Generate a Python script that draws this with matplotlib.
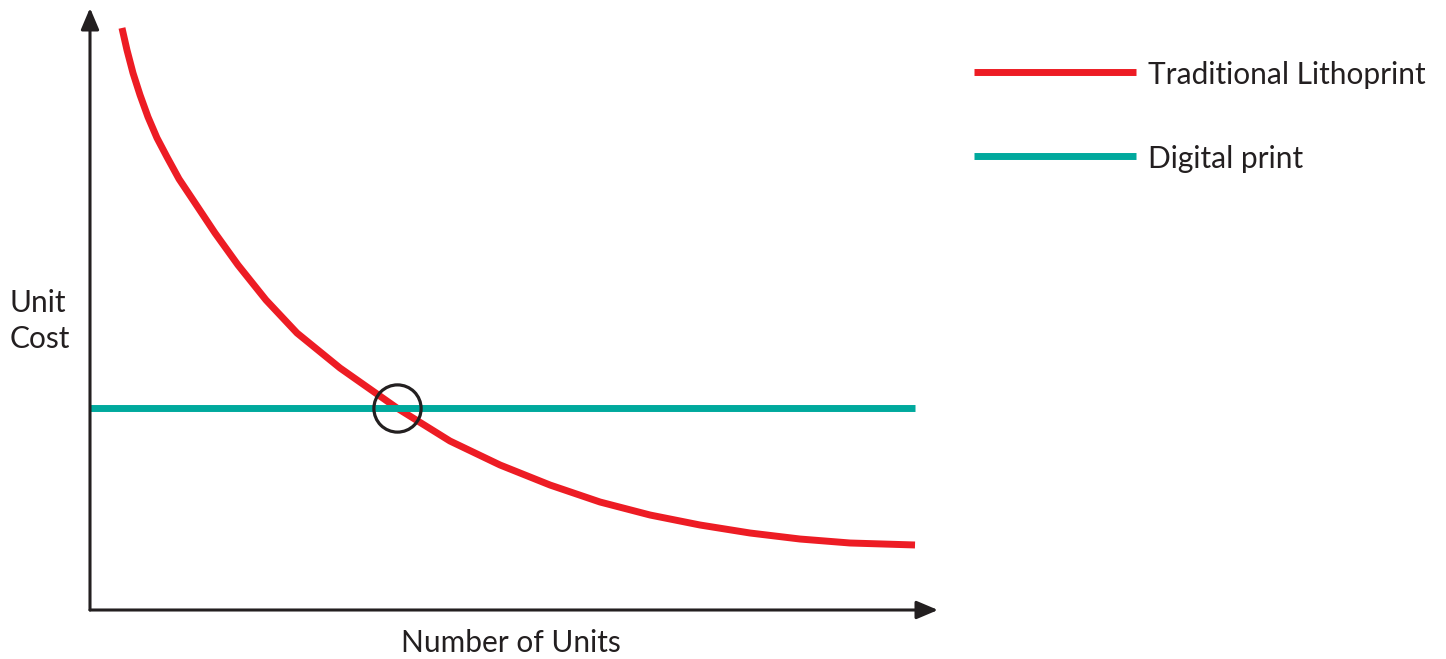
import matplotlib
matplotlib.use("Agg")
import matplotlib.pyplot as plt
from matplotlib.lines import Line2D

plt.rcParams['font.family'] = ['Lato', 'DejaVu Sans']

# (x: number of units, y: unit cost, both 0-100)
units = [3.77, 4.36, 5.07, 5.90, 6.84, 7.90, 9.08, 10.50, 12.15, 14.74, 17.45, 20.75,
         24.41, 29.48, 36.20, 42.45, 48.35, 54.25, 60.14, 66.04, 71.93, 77.83, 83.73,
         89.62, 97.29]
litho_cost = [96.68, 93.02, 89.20, 85.55, 81.89, 78.41, 75.25, 71.59, 68.11, 62.62, 57.31,
              51.50, 46.01, 40.20, 33.55, 28.07, 24.09, 20.76, 17.94, 15.78, 14.12, 12.79,
              11.79, 11.13, 10.80]
digital_units = [0.0, 97.29]
digital_cost = [33.55, 33.55]
break_even = (36.2, 33.55)

series_names = ["Traditional Lithoprint", "Digital print"]
x_label = "Number of Units"
y_label = "Unit\nCost"

RED = "#ED1C24"
TEAL = "#00A99D"
INK = "#231F20"

W, H = 1446, 659
fig = plt.figure(figsize=(W / 100, H / 100), dpi=100)
ax = fig.add_axes([90 / W, 49 / H, 848 / W, 602 / H])
ax.set_xlim(0, 100)
ax.set_ylim(0, 100)
ax.axis("off")

ax.plot(units, litho_cost, color=RED, lw=5, solid_capstyle="butt",
        solid_joinstyle="round", clip_on=False)
ax.plot(digital_units, digital_cost, color=TEAL, lw=5, solid_capstyle="butt", clip_on=False)
ax.plot(*break_even, marker="o", ms=34, mfc="none", mec=INK, mew=2.3, clip_on=False)

# axes with arrow heads
arrow = dict(arrowstyle="-|>,head_length=1.3,head_width=0.55", color=INK, lw=2.2,
             shrinkA=0, shrinkB=0)
ax.annotate("", xy=(0, 1.0), xytext=(0, 0), xycoords="axes fraction", arrowprops=arrow)
ax.annotate("", xy=(1.0, 0), xytext=(0, 0), xycoords="axes fraction", arrowprops=arrow)

fig.text(511 / W, 1 - 643 / H, x_label, ha="center", va="center", fontsize=21.5, color=INK)
fig.text(10 / W, 1 - 321 / H, y_label, ha="left", va="center", fontsize=21.5, color=INK,
         linespacing=1.36)

# legend drawn by hand
for i, (name, col) in enumerate(zip(series_names, [RED, TEAL])):
    yy = (72 + 84 * i)
    fig.add_artist(Line2D([974 / W, 1136 / W], [1 - yy / H, 1 - yy / H], color=col, lw=5,
                          solid_capstyle="butt"))
    fig.text(1148 / W, 1 - (yy + 3) / H, name, ha="left", va="center", fontsize=21.5,
             color=INK)

fig.savefig("out.png", dpi=100)
